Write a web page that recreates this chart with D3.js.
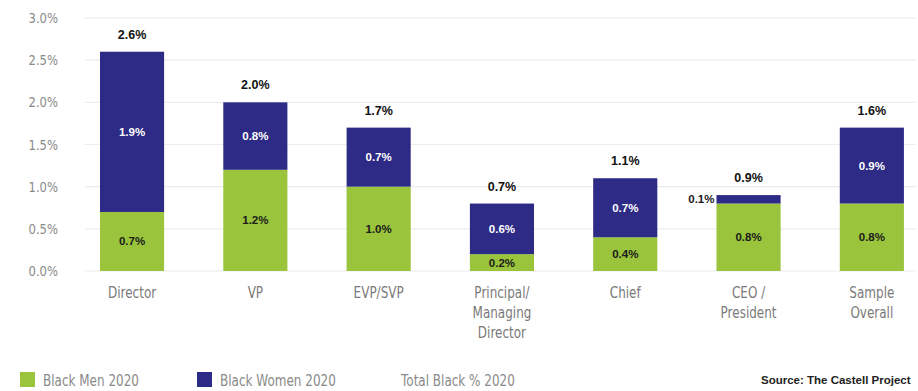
<!DOCTYPE html>
<html>
<head>
<meta charset="utf-8">
<script src="https://cdn.jsdelivr.net/npm/d3@7"></script>
<style>
  html, body { margin: 0; padding: 0; background: #fff; }
  svg { display: block; }
  .cond { font-family: "DejaVu Sans", "Liberation Sans", sans-serif; }
  .val { font-family: "Liberation Sans", Arial, sans-serif; font-weight: bold; }
</style>
</head>
<body>
<svg id="chart" width="918" height="391"></svg>
<script>
// Share of Black professionals by job level, 2020
const categories = [["Director"], ["VP"], ["EVP/SVP"], ["Principal/", "Managing", "Director"], ["Chief"], ["CEO /", "President"], ["Sample", "Overall"]];
const blackMen   = [0.7, 1.2, 1.0, 0.2, 0.4, 0.8, 0.8];
const blackWomen = [1.9, 0.8, 0.7, 0.6, 0.7, 0.1, 0.9];
const totalBlack = [2.6, 2.0, 1.7, 0.7, 1.1, 0.9, 1.6];
const yTicks = [0, 0.5, 1.0, 1.5, 2.0, 2.5, 3.0];
const legendItems = ["Black Men 2020", "Black Women 2020", "Total Black % 2020"];
const sourceText = "Source: The Castell Project";

const GREEN = "#99c43b";
const NAVY = "#2d2b86";
const SQUEEZE = 0.8; // horizontal squeeze for the condensed label face

const svg = d3.select("#chart");
const keys = categories.map((c, i) => i);

const x = d3.scaleBand()
  .domain(keys)
  .range([70.4, 933.5])
  .paddingInner(0.48)
  .paddingOuter(0.24);

const y = d3.scaleLinear().domain([0, 3.0]).range([271, 18]);

// Horizontal gridlines
svg.append("g")
  .selectAll("line")
  .data(yTicks)
  .join("line")
  .attr("x1", 85).attr("x2", 916)
  .attr("y1", d => y(d)).attr("y2", d => y(d))
  .attr("stroke", "#ececec")
  .attr("stroke-width", 1.2);

// Y axis labels (condensed, right aligned)
const yAxis = d3.axisLeft(y).tickValues(yTicks).tickFormat(d => d.toFixed(1) + "%").tickSize(0).tickPadding(0);
const gy = svg.append("g").attr("transform", "translate(58,0)").call(yAxis);
gy.select(".domain").remove();
gy.selectAll("text")
  .attr("class", "cond")
  .attr("fill", "#8a8a8a")
  .attr("font-size", 14.5)
  .attr("x", 0)
  .attr("transform", `scale(${SQUEEZE},1)`);

// Stacked bars
const rows = keys.map(i => ({ i, men: blackMen[i], women: blackWomen[i] }));
const stack = d3.stack().keys(["men", "women"]);
const series = stack(rows);
const colors = { men: GREEN, women: NAVY };

svg.append("g")
  .selectAll("g")
  .data(series)
  .join("g")
  .attr("fill", s => colors[s.key])
  .selectAll("rect")
  .data(s => s)
  .join("rect")
  .attr("x", d => x(d.data.i))
  .attr("width", x.bandwidth())
  .attr("y", d => y(d[1]))
  .attr("height", d => y(d[0]) - y(d[1]));

// Segment value labels
series.forEach(s => {
  s.forEach(d => {
    const v = d.data[s.key];
    const h = y(d[0]) - y(d[1]);
    const cx = x(d.data.i) + x.bandwidth() / 2;
    let tx = cx, ty = (y(d[0]) + y(d[1])) / 2 + 4, anchor = "middle";
    let fill = s.key === "men" ? "#1b1b1b" : "#ffffff";
    if (h < 14) {
      // thin segment: label sits to the left of the bar
      tx = x(d.data.i) - 2;
      anchor = "end";
      fill = "#1b1b1b";
    }
    svg.append("text")
      .attr("class", "val")
      .attr("x", tx).attr("y", ty)
      .attr("text-anchor", anchor)
      .attr("font-size", 11.5)
      .attr("fill", fill)
      .text(v.toFixed(1) + "%");
  });
});

// Total labels above each bar
svg.append("g")
  .selectAll("text")
  .data(rows)
  .join("text")
  .attr("class", "val")
  .attr("x", d => x(d.i) + x.bandwidth() / 2)
  .attr("y", d => y(d.men + d.women) - 13)
  .attr("text-anchor", "middle")
  .attr("font-size", 12.5)
  .attr("fill", "#111")
  .text(d => totalBlack[d.i].toFixed(1) + "%");

// Category labels
const cat = svg.append("g")
  .selectAll("text")
  .data(keys)
  .join("text")
  .attr("class", "cond")
  .attr("text-anchor", "middle")
  .attr("font-size", 15)
  .attr("fill", "#7a7a7a")
  .attr("transform", i => `translate(${x(i) + x.bandwidth() / 2},298) scale(${SQUEEZE},1)`);
cat.selectAll("tspan")
  .data(i => categories[i])
  .join("tspan")
  .attr("x", 0)
  .attr("dy", (d, j) => j === 0 ? 0 : 20)
  .text(d => d);

// Legend
const legend = svg.append("g").attr("transform", "translate(0,372)");
const legendX = [20, 197, 401];
const legendColors = [GREEN, NAVY, null];
legendItems.forEach((label, k) => {
  if (legendColors[k]) {
    legend.append("rect")
      .attr("x", legendX[k]).attr("y", 0)
      .attr("width", 15).attr("height", 15)
      .attr("fill", legendColors[k]);
  }
  const tx = legendColors[k] ? legendX[k] + 23 : legendX[k];
  legend.append("text")
    .attr("class", "cond")
    .attr("transform", `translate(${tx},14) scale(${SQUEEZE},1)`)
    .attr("font-size", 15)
    .attr("fill", "#8a8a8a")
    .text(label);
});

svg.append("text")
  .attr("class", "val")
  .attr("x", 761).attr("y", 384)
  .attr("font-size", 11.5)
  .attr("fill", "#222")
  .text(sourceText);
</script>
</body>
</html>
